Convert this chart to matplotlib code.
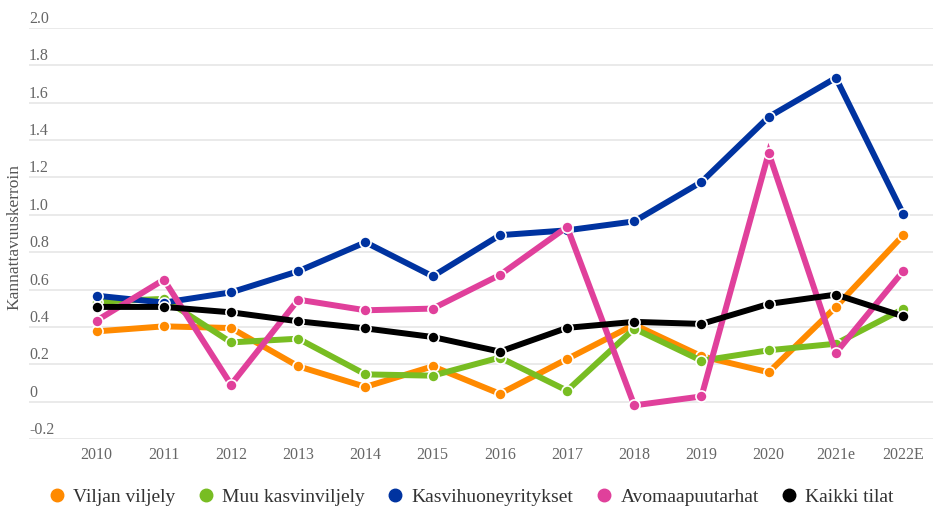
import matplotlib
matplotlib.use("Agg")
import matplotlib.pyplot as plt
import matplotlib.transforms as mtransforms
from matplotlib.lines import Line2D

plt.rcParams['font.family'] = ['Liberation Serif', 'DejaVu Serif']

years = ["2010", "2011", "2012", "2013", "2014", "2015", "2016",
         "2017", "2018", "2019", "2020", "2021e", "2022E"]

viljan_viljely = [0.376, 0.403, 0.394, 0.189, 0.079, 0.189, 0.042,
                  0.228, 0.412, 0.243, 0.157, 0.507, 0.890]
muu_kasvinviljely = [0.535, 0.550, 0.317, 0.337, 0.146, 0.139, 0.236,
                     0.059, 0.391, 0.219, 0.275, 0.310, 0.496]
kasvihuoneyritykset = [0.567, 0.530, 0.585, 0.698, 0.853, 0.671, 0.891,
                       0.917, 0.965, 1.176, 1.524, 1.733, 1.006]
avomaapuutarhat = [0.434, 0.653, 0.091, 0.546, 0.489, 0.498, 0.678,
                   0.935, -0.020, 0.028, 1.331, 0.261, 0.698]
kaikki_tilat = [0.507, 0.507, 0.478, 0.430, 0.392, 0.346, 0.268,
                0.395, 0.427, 0.416, 0.523, 0.573, 0.457]

series_names = ["Viljan viljely", "Muu kasvinviljely", "Kasvihuoneyritykset",
                "Avomaapuutarhat", "Kaikki tilat"]
series_values = [viljan_viljely, muu_kasvinviljely, kasvihuoneyritykset,
                 avomaapuutarhat, kaikki_tilat]
colors = ["#ff8a00", "#78bd22", "#0033a0", "#e0409b", "#000000"]

y_ticks = [-0.2, 0, 0.2, 0.4, 0.6, 0.8, 1.0, 1.2, 1.4, 1.6, 1.8, 2.0]
y_tick_labels = ["-0.2", "0", "0.2", "0.4", "0.6", "0.8", "1.0", "1.2",
                 "1.4", "1.6", "1.8", "2.0"]

W, H = 933, 509
fig = plt.figure(figsize=(W / 100, H / 100), dpi=100)
left, right, top, bottom = 29, 933, 28, 439
ax = fig.add_axes([left / W, 1 - bottom / H, (right - left) / W, (bottom - top) / H])

x = list(range(len(years)))
for name, vals, c in zip(series_names, series_values, colors):
    ax.plot(x, vals, color=c, lw=4.3, solid_joinstyle='miter',
            marker='o', markersize=8, markerfacecolor=c,
            markeredgecolor='white', markeredgewidth=1.2, label=name,
            clip_on=False)

ax.set_ylim(-0.2, 2.0)
ax.set_xlim(-1.007, 12.445)
ax.set_xticks(x)
ax.set_xticklabels(years)
ax.set_yticks(y_ticks)
ax.set_yticklabels(y_tick_labels)
ax.grid(axis='y', color='#e6e6e6', lw=1.2)
ax.set_axisbelow(True)
for s in ax.spines.values():
    s.set_visible(False)
ax.tick_params(axis='x', length=0, pad=6, labelsize=11.5, labelcolor='#666666')
ax.tick_params(axis='y', length=0, pad=0, labelsize=11.5, labelcolor='#666666')
offset = mtransforms.ScaledTranslation(0, 1 / 100, fig.dpi_scale_trans)
for lab in ax.get_yticklabels():
    lab.set_horizontalalignment('left')
    lab.set_verticalalignment('bottom')
    lab.set_transform(lab.get_transform() + offset)

fig.text(14 / W, 1 - 237 / H, "Kannattavuuskerroin", rotation=90,
         ha='center', va='center', fontsize=12.5, color='#555555')

labels = series_names
leg_handles = [Line2D([], [], ls='none', marker='o', markersize=9,
                      markerfacecolor=c, markeredgecolor=c) for c in colors]
fig.legend(leg_handles, labels, loc='center', bbox_to_anchor=(472 / W, 1 - 497 / H),
           ncol=5, frameon=False,
           prop={'family': 'Liberation Serif', 'size': 14},
           handlelength=0.7, handletextpad=0.5, columnspacing=1.2,
           labelcolor='#333333')

fig.savefig("out.png", dpi=100)
